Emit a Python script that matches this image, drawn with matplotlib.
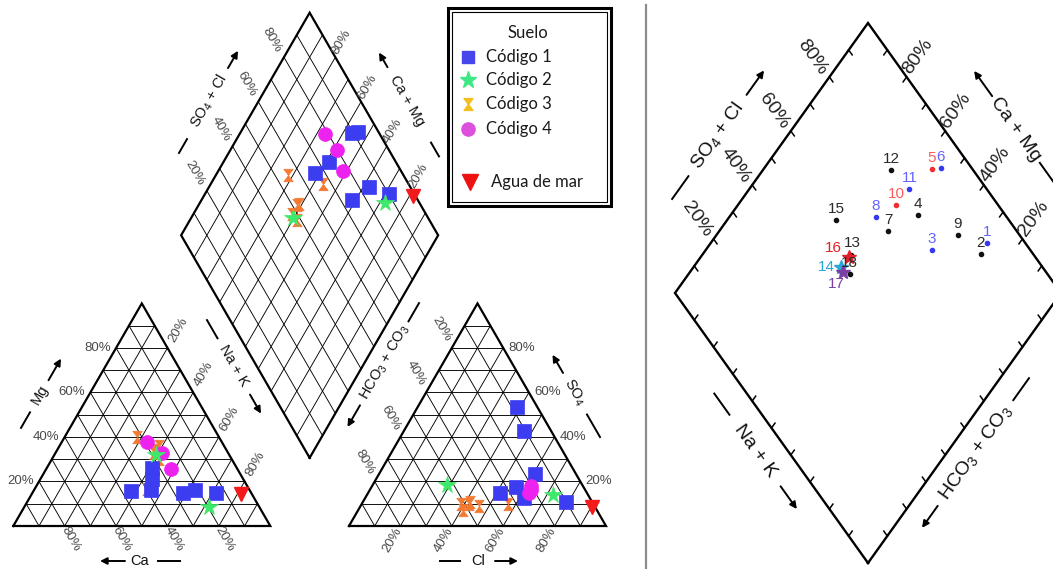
import numpy as np
import matplotlib.pyplot as plt
from matplotlib.path import Path
from matplotlib.patches import Rectangle

plt.rcParams.update({
    'font.family': ['Liberation Sans', 'DejaVu Sans'],
    'mathtext.default': 'regular',
})

# samples 1..18, percent of meq/L
sample_ids = list(range(1, 19))
soil_code = [1, 2, 1, 4, 1, 1, 3, 1, 1, 1, 4, 4, 3, 3, 3, 3, 2, 3]
mg_pct = [15.0, 8.5, 15.0, 25.5, 21.0, 16.0, 16.6, 15.7, 16.2, 26.0, 33.0, 37.7, 35.9, 33.0, 40.0, 34.0, 32.0, 30.0]
nak_pct = [71.5, 72.0, 58.5, 48.5, 43.5, 45.7, 43.8, 38.1, 62.5, 41.0, 41.5, 33.3, 38.7, 38.2, 28.2, 38.4, 39.7, 41.8]
so4_pct = [11.0, 14.0, 12.5, 15.0, 42.5, 53.5, 10.0, 14.7, 23.4, 17.7, 18.0, 16.0, 11.0, 7.0, 9.0, 10.0, 18.4, 10.0]
cl_pct = [79.0, 72.5, 62.0, 62.5, 47.0, 38.5, 56.8, 51.4, 60.6, 56.0, 62.0, 62.7, 41.7, 40.9, 46.2, 41.8, 29.0, 38.7]

# sea water reference
sea_mg, sea_nak, sea_so4, sea_cl = 14.4, 81.4, 8.7, 90.3

legend_title = 'Suelo'
code_labels = {1: 'Código 1', 2: 'Código 2', 3: 'Código 3', 4: 'Código 4'}
sea_label = 'Agua de mar'
pct_ticks = [20, 40, 60, 80]

# right panel styling per sample
blue_ids = [1, 3, 6, 8, 11]
red_ids = [5, 10]
star_colors = {14: '#2ba4d6', 16: '#e3202a', 17: '#7b3fa4'}
label_offsets = {13: (1, -12), 14: (-15, 0), 16: (-16, -9), 17: (-7, 12)}

H = np.sqrt(3) / 2


def tri(origin, side, right, top):
    return origin[0] + side * (right + top / 2), origin[1] - side * H * top


def dia(base, vr, vl, s, c):
    return base[0] + s * vr[0] + c * vl[0], base[1] + s * vr[1] + c * vl[1]


def seg(ax, p, q, **kw):
    ax.plot([p[0], q[0]], [p[1], q[1]], **kw)


def axis_title(ax, cx, cy, u, label, rot, arrow_dir, a_gap, a_len, l_gap, l_len, fs):
    ax.text(cx, cy, label, rotation=rot, ha='center', va='center',
            rotation_mode='anchor', fontsize=fs, color='#111111')
    ux, uy = u
    tail = (cx + arrow_dir * ux * a_gap, cy + arrow_dir * uy * a_gap)
    head = (cx + arrow_dir * ux * (a_gap + a_len), cy + arrow_dir * uy * (a_gap + a_len))
    ax.annotate('', xy=head, xytext=tail,
                arrowprops=dict(arrowstyle='-|>', color='black', lw=1.4, mutation_scale=10,
                                shrinkA=0, shrinkB=0))
    p = (cx - arrow_dir * ux * l_gap, cy - arrow_dir * uy * l_gap)
    q = (cx - arrow_dir * ux * (l_gap + l_len), cy - arrow_dir * uy * (l_gap + l_len))
    seg(ax, p, q, color='black', lw=1.4)


hourglass = Path([(-0.75, 1), (0.75, 1), (-0.75, -1), (0.75, -1), (-0.75, 1)],
                 [Path.MOVETO, Path.LINETO, Path.LINETO, Path.LINETO, Path.CLOSEPOLY])
code_style = {
    1: dict(marker='s', color='#3c3cf0', ms=9.5),
    2: dict(marker='*', color='#3ee86a', ms=13),
    3: dict(marker=hourglass, color='#f27a33', ms=9),
    4: dict(marker='o', color='#ee22ee', ms=10),
}
legend_colors = {1: '#4646ea', 2: '#3fe884', 3: '#f3bf1e', 4: '#dd4fdd'}
sea_color = '#f21a1a'

fig = plt.figure(figsize=(10.53, 5.69), dpi=100)
ax = fig.add_axes([0, 0, 1, 1])
ax.set_xlim(0, 1053)
ax.set_ylim(569, 0)
ax.axis('off')

mg = np.array(mg_pct) / 100
nak = np.array(nak_pct) / 100
so4 = np.array(so4_pct) / 100
cl = np.array(cl_pct) / 100
codes = np.array(soil_code)
s_an = so4 + cl
c_cat = 1 - nak

# ---------------- left panel: full Piper diagram ----------------
cat_o = (13.3, 526.0)
an_o = (349.0, 526.0)
side = 257.0
gap = an_o[0] - (cat_o[0] + side)
lbase = (cat_o[0] + side + gap / 2, cat_o[1] - gap / 2 * np.sqrt(3))
lvr = (side / 2, -side * H)
lvl = (-side / 2, -side * H)
fr = np.arange(1, 10) / 10
grid_kw = dict(color='black', lw=0.65)
edge_kw = dict(color='black', lw=1.6, solid_joinstyle='miter')

for o in (cat_o, an_o):
    P = lambda r, t, o=o: tri(o, side, r, t)
    for f in fr:
        seg(ax, P(0, f), P(1 - f, f), **grid_kw)
        seg(ax, P(f, 0), P(f, 1 - f), **grid_kw)
        seg(ax, P(1 - f, 0), P(0, 1 - f), **grid_kw)
    pts = [P(0, 0), P(1, 0), P(0, 1), P(0, 0)]
    ax.plot([p[0] for p in pts], [p[1] for p in pts], **edge_kw)

D = lambda s, c: dia(lbase, lvr, lvl, s, c)
for f in fr:
    seg(ax, D(f, 0), D(f, 1), **grid_kw)
    seg(ax, D(0, f), D(1, f), **grid_kw)
pts = [D(0, 0), D(1, 0), D(1, 1), D(0, 1), D(0, 0)]
ax.plot([p[0] for p in pts], [p[1] for p in pts], **edge_kw)

# tick labels left panel
tk = dict(fontsize=9.5, color='#4a4a4a', va='center')
for v in pct_ticks:
    f = v / 100
    t = f'{v}%'
    x, y = tri(cat_o, side, 0, f)
    ax.text(x - 5, y, t, ha='right', **tk)
    x, y = tri(cat_o, side, f, 1 - f)
    ax.text(x + 11, y - 18, t, ha='center', rotation=60, **tk)
    x, y = tri(cat_o, side, 1 - f, 0)
    ax.text(x + 6, y + 13, t, ha='center', rotation=-60, **tk)
    x, y = tri(an_o, side, 1 - f, f)
    ax.text(x + 5, y, t, ha='left', **tk)
    x, y = tri(an_o, side, 0, 1 - f)
    ax.text(x - 10, y - 19, t, ha='center', rotation=-60, **tk)
    x, y = tri(an_o, side, f, 0)
    ax.text(x - 8, y + 14, t, ha='center', rotation=60, **tk)
    x, y = D(f, 1)
    ax.text(x - 12, y - 17.5, t, ha='center', rotation=-60, **tk)
    x, y = D(1, f)
    ax.text(x + 6, y - 15, t, ha='center', rotation=60, **tk)

up_r = (0.5, -H)
dn_r = (0.5, H)
fs_l = 10.5
axis_title(ax, 40, 395, up_r, 'Mg', 60, 1, 17, 25, 20, 18, fs_l)
axis_title(ax, 233.5, 366, dn_r, 'Na + K', -60, 1, 33, 22, 32, 21, fs_l)
axis_title(ax, 140, 561, (1, 0), 'Ca', 0, -1, 15, 25, 18, 22, fs_l)
axis_title(ax, 478, 561, (1, 0), 'Cl', 0, 1, 17, 23, 18, 20, fs_l)
axis_title(ax, 574, 392, dn_r, 'SO$_4$', -60, -1, 22, 21, 26, 26, fs_l)
axis_title(ax, 385, 362, up_r, 'HCO$_3$ + CO$_3$', 60, -1, 50, 25, 47, 21, fs_l)
axis_title(ax, 209, 101, up_r, 'SO$_4$ + Cl', 60, 1, 38, 20, 44, 16, fs_l)
axis_title(ax, 407, 101, dn_r, 'Ca + Mg', -60, -1, 39, 17, 48, 16, fs_l)

cx, cy = tri(cat_o, side, nak, mg)
ax_, ay_ = tri(an_o, side, cl, so4)
dx, dy = D(s_an, c_cat)
for code in [3, 1, 4, 2]:
    m = codes == code
    st = code_style[code]
    for xs, ys in ((cx, cy), (ax_, ay_), (dx, dy)):
        ax.plot(xs[m], ys[m], ls='none', marker=st['marker'], ms=st['ms'],
                color=st['color'], mec=st['color'], mew=0.5)

sx, sy = tri(cat_o, side, sea_nak / 100, sea_mg / 100)
ax.plot(sx, sy, 'v', color=sea_color, ms=10)
sx, sy = tri(an_o, side, sea_cl / 100, sea_so4 / 100)
ax.plot(sx, sy, 'v', color=sea_color, ms=10)
sx, sy = D((sea_so4 + sea_cl) / 100, 1 - sea_nak / 100)
ax.plot(sx, sy, 'v', color=sea_color, ms=10)

# legend box
ax.add_patch(Rectangle((447.5, 7.5), 163, 198, fill=False, lw=2.2, ec='black'))
ax.add_patch(Rectangle((451.5, 11.5), 155, 190, fill=False, lw=0.8, ec='black'))
lg = dict(fontsize=12, family=['Lato', 'DejaVu Sans'], va='center', color='#1a1a1a')
ax.text(528, 33, legend_title, ha='center', **lg)
for code, y in zip([1, 2, 3, 4], [57, 80, 104, 129]):
    st = code_style[code]
    ax.plot(468, y, ls='none', marker=st['marker'], ms=st['ms'] * 0.95,
            color=legend_colors[code], mec=legend_colors[code])
    ax.text(486, y, code_labels[code], ha='left', **lg)
ax.plot(470, 182, 'v', color='#ee1111', ms=11)
ax.text(491, 182, sea_label, ha='left', **lg)

# separator
ax.plot([646, 646], [5, 569], color='#8c8c8c', lw=1.6)

# ---------------- right panel: diamond only ----------------
rbase = (868.0, 563.0)
rvr = (193.0, -270.0)
rvl = (-193.0, -270.0)
R = lambda s, c: dia(rbase, rvr, rvl, s, c)
pts = [R(0, 0), R(1, 0), R(1, 1), R(0, 1), R(0, 0)]
ax.plot([p[0] for p in pts], [p[1] for p in pts], color='black', lw=1.7,
        solid_joinstyle='miter')
tick_len = 6.0
for f in fr:
    for p, q in ((R(0, f), R(1, f)), (R(1, f), R(0, f)), (R(f, 0), R(f, 1)), (R(f, 1), R(f, 0))):
        vx, vy = q[0] - p[0], q[1] - p[1]
        n = np.hypot(vx, vy)
        seg(ax, p, (p[0] + vx / n * tick_len, p[1] + vy / n * tick_len), color='black', lw=1.1)

ang = np.degrees(np.arctan2(270, 193))
tr = dict(fontsize=14, color='#222222', ha='center', va='center', rotation_mode='anchor')
for v in pct_ticks:
    f = v / 100
    x, y = R(f, 1)
    ax.text(x - 17, y - 20, f'{v}%', rotation=-ang, **tr)
    x, y = R(1, f)
    ax.text(x + 11, y - 21, f'{v}%', rotation=ang, **tr)

u1 = (np.cos(np.radians(ang)), -np.sin(np.radians(ang)))
u2 = (np.cos(np.radians(ang)), np.sin(np.radians(ang)))
axis_title(ax, 717.5, 135.5, u1, 'SO$_4$ + Cl', ang, 1, 50, 30, 50, 28, 14)
axis_title(ax, 1016, 129.5, u2, 'Ca + Mg', -ang, -1, 41, 31, 41, 25, 14)
axis_title(ax, 755, 450.5, u2, 'Na + K', -ang, 1, 44, 28, 44, 26, 14)
axis_title(ax, 975.5, 453, u1, 'HCO$_3$ + CO$_3$', ang, -1, 65, 27, 65, 27, 14)

rx, ry = R(s_an, c_cat)
for i, sid in enumerate(sample_ids):
    if sid in star_colors:
        col = star_colors[sid]
        ax.plot(rx[i], ry[i], '*', color=col, ms=10, mec=col)
        lcol = col
    else:
        if sid in blue_ids:
            col, lcol = '#3838f0', '#6464ff'
        elif sid in red_ids:
            col, lcol = '#f03030', '#ff5a5a'
        else:
            col, lcol = '#111111', '#2a2a2a'
        ax.plot(rx[i], ry[i], 'o', color=col, ms=3)
    ox, oy = label_offsets.get(sid, (0, -11))
    ax.text(rx[i] + ox, ry[i] + oy, str(sid), color=lcol, fontsize=11,
            ha='center', va='center')

fig.savefig('out.png', dpi=100, facecolor='white')
